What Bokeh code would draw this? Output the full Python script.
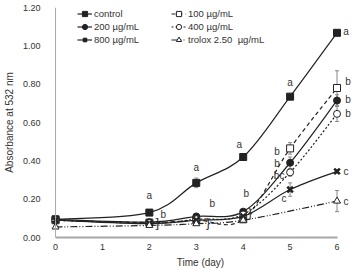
from bokeh.plotting import figure
from bokeh.models import (Range1d, FixedTicker, NumeralTickFormatter, Span, Legend,
                          LegendItem, ColumnDataSource, Whisker, TeeHead)
from bokeh.core.properties import value
from bokeh.embed import file_html
from bokeh.resources import INLINE

# Absorbance at 532 nm over storage time
days = [0, 2, 3, 4, 5, 6]
days_trolox = [0, 2, 3, 4, 6]
control = [0.095, 0.13, 0.285, 0.42, 0.735, 1.068]
c100 = [0.09, 0.078, 0.09, 0.095, 0.465, 0.78]
c200 = [0.095, 0.08, 0.11, 0.135, 0.39, 0.715]
c400 = [0.09, 0.075, 0.095, 0.12, 0.34, 0.645]
c800 = [0.09, 0.072, 0.09, 0.11, 0.25, 0.345]
trolox = [0.055, 0.063, 0.072, 0.09, 0.19]

err_control = [0.005, 0.008, 0.025, 0.01, 0.012, 0.01]
err_100 = [0.005, 0.005, 0.005, 0.01, 0.03, 0.09]
err_200 = [0.005, 0.005, 0.01, 0.01, 0.03, 0.03]
err_400 = [0.005, 0.005, 0.005, 0.01, 0.02, 0.04]
err_800 = [0.005, 0.005, 0.005, 0.01, 0.035, 0.01]
err_trolox = [0.005, 0.005, 0.005, 0.01, 0.055]

series_names = ["control", "100 µg/mL", "200 µg/mL", "400 µg/mL", "800 µg/mL", "trolox 2.50  µg/mL"]
y_ticks = [0.0, 0.2, 0.4, 0.6, 0.8, 1.0, 1.2]
x_ticks = [0, 1, 2, 3, 4, 5, 6]

# significance letters: (series, day, letter, dx px, dy px)
letters = [
    ("control", 2, "a", 0, -17), ("control", 3, "a", 0, -15), ("control", 4, "a", -4, -13),
    ("control", 5, "a", 0, -14), ("control", 6, "a", 9, -1),
    ("200", 2, "b", 14, -8), ("200", 3, "b", 16, -13), ("200", 4, "b", 3, -18),
    ("200", 5, "b", -13, 1), ("200", 6, "b", 11, -1),
    ("100", 5, "b", -13, 3), ("100", 6, "b", 11, -7),
    ("400", 5, "bc", -11, 3), ("400", 6, "b", 11, 0),
    ("800", 5, "c", -6, 9), ("800", 6, "c", 9, 0),
    ("trolox", 6, "c", 9, 0),
]
brackets = [("200", 2, "]", 8, 0), ("200", 3, "}", 12, 6), ("200", 4, "}", 7, 1)]

FONT = "Liberation Sans"
INK = "#222222"
NAN = float("nan")

p = figure(width=352, height=270, output_backend="svg", toolbar_location=None,
           x_range=Range1d(-0.15, 6.33), y_range=Range1d(0, 1.2),
           min_border_left=41, min_border_right=0, min_border_top=7, min_border_bottom=33)
p.outline_line_color = None
p.background_fill_color = "white"
p.grid.grid_line_color = None

p.xaxis.ticker = FixedTicker(ticks=x_ticks)
p.xaxis.bounds = (0, 6)
p.xaxis.axis_line_color = "#a8a8a8"
p.xaxis.axis_line_width = 2
p.xaxis.axis_label = "Time (day)"
p.yaxis.ticker = FixedTicker(ticks=y_ticks)
p.yaxis.formatter = NumeralTickFormatter(format="0.00")
p.yaxis.axis_line_color = None
p.yaxis.axis_label = "Absorbance at 532 nm"
for ax in (p.xaxis[0], p.yaxis[0]):
    ax.major_tick_line_color = None
    ax.minor_tick_line_color = None
    ax.major_tick_out = 0
    ax.major_tick_in = 0
    ax.major_label_text_font = FONT
    ax.major_label_text_font_size = "9px"
    ax.major_label_text_color = "#333333"
    ax.axis_label_text_font = FONT
    ax.axis_label_text_font_size = "10px"
    ax.axis_label_text_font_style = "normal"
    ax.axis_label_text_color = "#333333"
p.xaxis.major_label_standoff = 6
p.xaxis.axis_label_standoff = 4
p.yaxis.major_label_standoff = 8
p.yaxis.axis_label_standoff = 5

# vertical axis line at day 0
p.add_layout(Span(location=0, dimension="height", line_color="#a8a8a8", line_width=1))


def bezier_source(xs, ys):
    n = len(xs)
    pts = list(zip(xs, ys))
    d = dict(x0=[], y0=[], x1=[], y1=[], cx0=[], cy0=[], cx1=[], cy1=[])
    for i in range(n - 1):
        p0 = pts[max(i - 1, 0)]
        p1 = pts[i]
        p2 = pts[i + 1]
        p3 = pts[min(i + 2, n - 1)]
        d["x0"].append(p1[0]); d["y0"].append(p1[1])
        d["x1"].append(p2[0]); d["y1"].append(p2[1])
        d["cx0"].append(p1[0] + (p2[0] - p0[0]) / 6)
        d["cy0"].append(p1[1] + (p2[1] - p0[1]) / 6)
        d["cx1"].append(p2[0] - (p3[0] - p1[0]) / 6)
        d["cy1"].append(p2[1] - (p3[1] - p1[1]) / 6)
    return ColumnDataSource(d)


styles = {
    "control": dict(x=days, y=control, err=err_control, dash="solid", marker="square", fill=INK, size=7),
    "100": dict(x=days, y=c100, err=err_100, dash="4 3", marker="square", fill="white", size=7),
    "200": dict(x=days, y=c200, err=err_200, dash="solid", marker="circle", fill=INK, size=7),
    "400": dict(x=days, y=c400, err=err_400, dash="2 2", marker="circle", fill="white", size=7),
    "800": dict(x=days, y=c800, err=err_800, dash="solid", marker="x", fill=INK, size=8),
    "trolox": dict(x=days_trolox, y=trolox, err=err_trolox, dash="7 2 1 2 1 2", marker="triangle", fill="white", size=7),
}
keys = ["control", "100", "200", "400", "800", "trolox"]

legend_parts = {}
for key in keys:
    s = styles[key]
    # error bars
    src = ColumnDataSource(dict(x=s["x"], lo=[v - e for v, e in zip(s["y"], s["err"])],
                                hi=[v + e for v, e in zip(s["y"], s["err"])]))
    p.add_layout(Whisker(source=src, base="x", upper="hi", lower="lo", dimension="height",
                         line_color="#888888", line_width=1,
                         upper_head=TeeHead(size=4, line_color="#888888", line_width=1),
                         lower_head=TeeHead(size=4, line_color="#888888", line_width=1)))
    p.bezier(x0="x0", y0="y0", x1="x1", y1="y1", cx0="cx0", cy0="cy0", cx1="cx1", cy1="cy1",
             source=bezier_source(s["x"], s["y"]), line_color=INK, line_width=1.2, line_dash=s["dash"])
    # line sample shown only in the legend
    leg_line = p.line(x=[NAN], y=[NAN], line_color=INK, line_width=1.2, line_dash=s["dash"])
    lw = 2.5 if s["marker"] == "x" else 1
    mk = p.scatter(x=s["x"], y=s["y"], marker=s["marker"], size=s["size"], line_color=INK,
                   fill_color=s["fill"], line_width=lw)
    legend_parts[key] = [leg_line, mk]


def lookup(key, day):
    s = styles[key]
    return s["y"][s["x"].index(day)]


for items, fsize in ((letters, "10px"), (brackets, "13px")):
    for key, day, txt, dx, dy in items:
        p.text(x=[day], y=[lookup(key, day)], text=[txt], x_offset=dx, y_offset=dy,
               text_font=value(FONT), text_font_size=fsize, text_color="#333333",
               text_align="center", text_baseline="middle")


def make_legend(ks, loc):
    lg = Legend(items=[LegendItem(label=series_names[keys.index(k)], renderers=legend_parts[k]) for k in ks],
                location=loc, padding=0, margin=0, spacing=0, border_line_color=None,
                background_fill_alpha=0, glyph_width=15, glyph_height=13, label_height=13,
                label_standoff=2, label_text_font=FONT, label_text_font_size="9.5px",
                label_text_color="#333333")
    p.add_layout(lg)


make_legend(["control", "200", "800"], (29, 191))
make_legend(["100", "400", "trolox"], (123, 191))

open("out.html", "w").write(file_html(p, INLINE))
